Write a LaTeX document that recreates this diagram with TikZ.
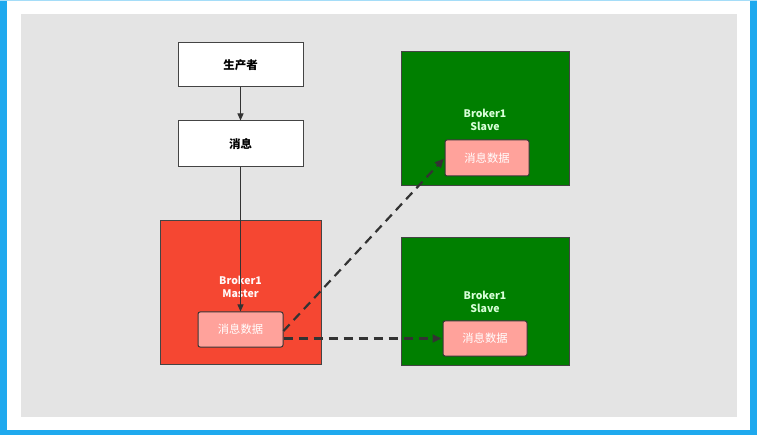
\documentclass[tikz,border=0pt]{standalone}
\usepackage{fontspec}
\newfontfamily\cjk{Noto Sans CJK SC}
\usetikzlibrary{arrows.meta}
\definecolor{frameblue}{HTML}{1FA9EE}
\definecolor{bggrey}{HTML}{E4E4E4}
\definecolor{mred}{HTML}{F54732}
\definecolor{sgreen}{HTML}{007F00}
\definecolor{inpink}{HTML}{FFA29B}
\definecolor{edgegrey}{HTML}{444444}
\definecolor{lnk}{HTML}{333333}
\begin{document}
\begin{tikzpicture}[x=1pt,y=-1pt,
  every node/.style={font=\cjk\bfseries\fontsize{10.5}{12.5}\selectfont, inner sep=0pt, align=center},
  plainbox/.style={draw=edgegrey, line width=1pt, fill=white, text=black, rectangle, font=\cjk\bfseries\fontsize{11.5}{13}\selectfont},
  masterbox/.style={draw=edgegrey, line width=1pt, fill=mred, rectangle},
  slavebox/.style={draw=edgegrey, line width=1pt, fill=sgreen, rectangle},
  databox/.style={draw=edgegrey!80!black, line width=1pt, fill=inpink, rounded corners=2pt, text=white, rectangle, font=\cjk\fontsize{11.3}{13}\selectfont},
  mlabel/.style={text=white!90!pink},
  slabel/.style={text=green!15!white},
  solidlink/.style={draw=lnk, line width=0.9pt, -{Triangle[length=7pt,width=6pt]}},
  dashlink/.style={draw=lnk, line width=2.2pt, dash pattern=on 9pt off 6pt, -{Triangle[length=9pt,width=8pt]}, shorten >=1pt}
]
\useasboundingbox (0,0) rectangle (757,435);
\fill[white] (0,0) rectangle (757,435);
\fill[frameblue] (0,0) rectangle (7,435);
\fill[frameblue] (750,0) rectangle (757,435);
\fill[frameblue] (0,430) rectangle (757,435);
\fill[frameblue!40] (0,0) rectangle (757,1.2);
\fill[bggrey] (21,14) rectangle (737,417);

\node[plainbox, minimum width=125pt, minimum height=44pt] (prod) at (240.5,65) {生产者};
\node[plainbox, minimum width=125pt, minimum height=46pt] (msg) at (240.5,144) {消息};

\node[masterbox, minimum width=161pt, minimum height=143pt] (master) at (240.5,292.5) {};
\node[mlabel] (mlab) at (240.5,287) {Broker1\\Master};
\node[databox, minimum width=85pt, minimum height=35pt] (mdata) at (240.5,329.5) {消息数据};

\node[slavebox, minimum width=168pt, minimum height=134pt] (slave1) at (485,119) {};
\node[slabel] (s1lab) at (485,120) {Broker1\\Slave};
\node[databox, minimum width=84pt, minimum height=36pt] (s1data) at (487,158) {消息数据};

\node[slavebox, minimum width=168pt, minimum height=127pt] (slave2) at (485,301.5) {};
\node[slabel] (s2lab) at (485,302) {Broker1\\Slave};
\node[databox, minimum width=84pt, minimum height=35pt] (s2data) at (485,338.5) {消息数据};

\draw[solidlink] (prod.south) -- (msg.north);
\draw[solidlink] (msg.south) -- (mdata.north);
\draw[dashlink] ([yshift=-1.5pt]mdata.east) -- (s1data.west);
\draw[dashlink] (mdata.east |- s2data.west) -- (s2data.west);
\end{tikzpicture}
\end{document}
